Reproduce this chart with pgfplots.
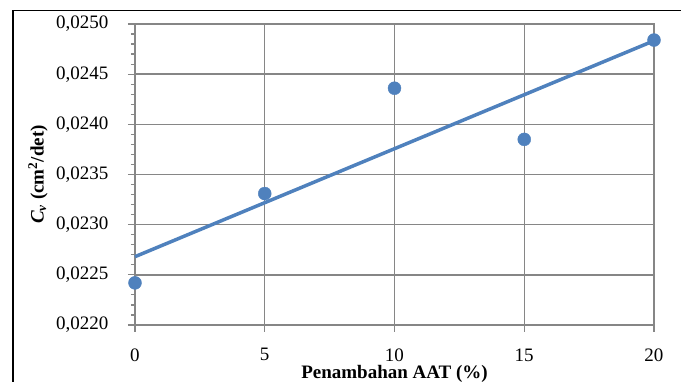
\documentclass[border=0pt]{standalone}
\usepackage{fontspec}
\setmainfont{Liberation Serif}
\usepackage{pgfplots}
\pgfplotsset{compat=1.18}
\definecolor{exblue}{RGB}{79,129,189}
\definecolor{exgrid}{RGB}{134,134,134}
\begin{document}
\begin{tikzpicture}[x=1pt,y=1pt]
\path[use as bounding box] (0,0) rectangle (681,382);
\draw[line width=2.5pt] (13,-2) -- (13,371.5);
\draw[line width=1.3pt] (11.75,371.5) -- (683,371.5);
\begin{axis}[
  at={(135pt,57pt)}, anchor=south west,
  scale only axis, width=519pt, height=301pt,
  xmin=0, xmax=20, ymin=0.022, ymax=0.025,
  xtick={0,5,10,15,20},
  ytick={0.022,0.0225,0.023,0.0235,0.024,0.0245,0.025},
  minor y tick num=4,
  grid=major,
  major grid style={exgrid, line width=1.4pt},
  axis line style={exgrid, line width=1.4pt},
  tick style={exgrid, line width=1.2pt},
  tick align=outside,
  major tick length=7pt, minor tick length=4pt,
  xtick pos=bottom, ytick pos=left,
  scaled y ticks=false,
  /pgf/number format/assume math mode=true,
  ticklabel style={font=\fontsize{19}{19}\selectfont, text=black},
  yticklabel style={/pgf/number format/.cd, fixed, fixed zerofill, precision=4, use comma, /tikz/.cd, xshift=-16pt},
  xticklabel style={/pgf/number format/.cd, fixed, precision=0, /tikz/.cd, yshift=-13pt},
  xlabel={\textbf{Penambahan AAT (\%)}},
  ylabel={\textbf{\textit{C}\textsubscript{\textit{v}} (cm\textsuperscript{2}/det)}},
  label style={font=\fontsize{19}{19}\selectfont},
  xlabel style={at={(axis description cs:0.5,0)}, anchor=base, yshift=-54pt},
  ylabel style={at={(axis description cs:0,0.5)}, anchor=center, yshift=97pt},
  clip=false,
]
\addplot[exblue, line width=3.5pt] coordinates {(0,0.022681) (20,0.024833)};
\addplot[only marks, mark=*, mark size=6.5pt, mark options={draw=exblue, fill=exblue}]
  coordinates {(0,0.02242) (5,0.02331) (10,0.02436) (15,0.02385) (20,0.02484)};
\end{axis}
\end{tikzpicture}
\end{document}
